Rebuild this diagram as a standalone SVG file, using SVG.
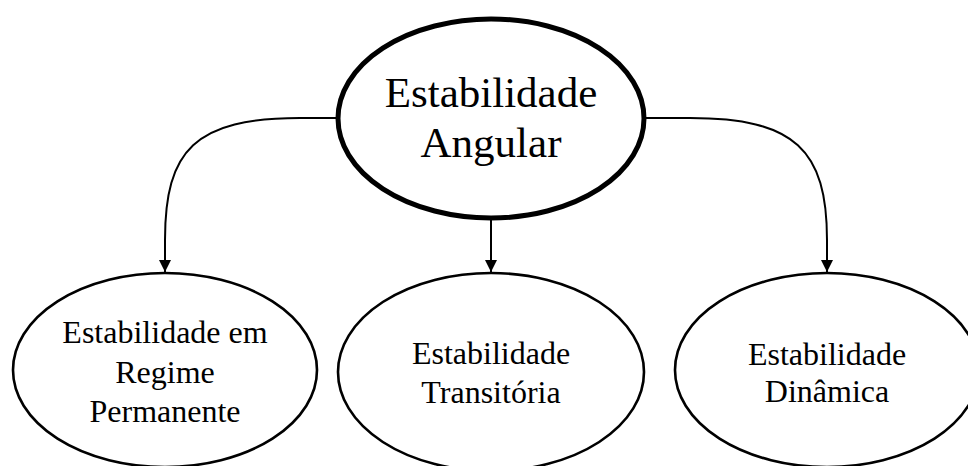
<svg xmlns="http://www.w3.org/2000/svg" width="968" height="466" viewBox="0 0 968 466">
<style>
.n{fill:#fff;stroke:#000;stroke-width:2.6}
.root{fill:#fff;stroke:#000;stroke-width:5}
.t{font-family:"Liberation Serif","Times New Roman",serif;fill:#000;text-anchor:middle}
.s{font-size:32px}
.b{font-size:43px}
.c{fill:none;stroke:#000;stroke-width:2}
</style>
<defs>
<marker id="ah" markerWidth="12" markerHeight="12" refX="12" refY="6" orient="auto" markerUnits="userSpaceOnUse" viewBox="0 0 12 12">
<path d="M0,0 L12,6 L0,12 Z" fill="#000"/>
</marker>
</defs>
<rect width="968" height="466" fill="#fff"/>
<g id="connectors">
<path class="c" d="M337,118 L300,118 C195,118 165,150 165,240 L165,272" marker-end="url(#ah)"/>
<path class="c" d="M491,220 L491,272" marker-end="url(#ah)"/>
<path class="c" d="M646,118 L690,118 C795,118 827,150 827,240 L827,272" marker-end="url(#ah)"/>
</g>
<g id="root">
<ellipse class="root" cx="491" cy="118.5" rx="153" ry="99.5"/>
<text class="t b" x="491" y="107">Estabilidade</text>
<text class="t b" x="491" y="157">Angular</text>
</g>
<g id="regime">
<ellipse class="n" cx="165" cy="370" rx="152" ry="97"/>
<text class="t s" x="165" y="343">Estabilidade em</text>
<text class="t s" x="165" y="383">Regime</text>
<text class="t s" x="165" y="422">Permanente</text>
</g>
<g id="transitoria">
<ellipse class="n" cx="491" cy="372" rx="153" ry="99"/>
<text class="t s" x="491" y="364">Estabilidade</text>
<text class="t s" x="491" y="403">Transitória</text>
</g>
<g id="dinamica">
<ellipse class="n" cx="827" cy="370" rx="152" ry="97"/>
<text class="t s" x="827" y="365">Estabilidade</text>
<text class="t s" x="827" y="402">Dinâmica</text>
</g>
</svg>
